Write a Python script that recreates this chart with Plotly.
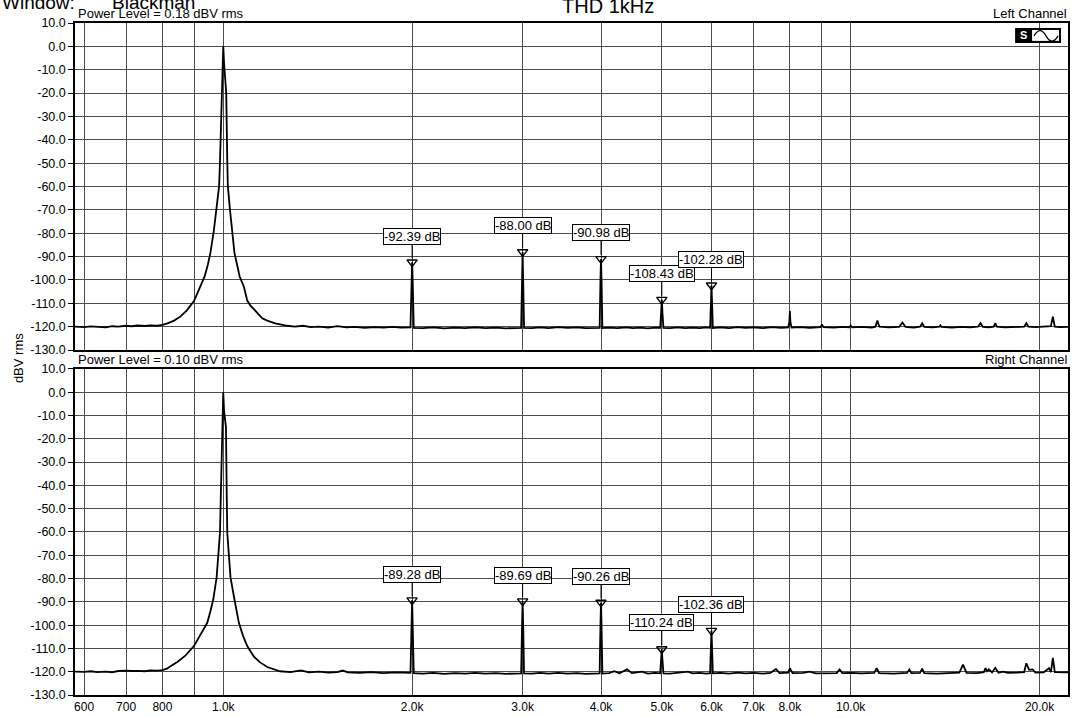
import math
import plotly.graph_objects as go

# ---------------- data ----------------
freq_left = (
    [580, 600, 615, 630, 650, 665, 680, 700, 715, 730, 750, 765, 785]
    + [800, 815, 835, 855, 875, 898, 910, 920, 934, 945, 954, 966, 976, 985, 988, 992, 995, 998, 1000]
    + [1003, 1007, 1011, 1015, 1017, 1025, 1033, 1042, 1062, 1079, 1092, 1105, 1119, 1135, 1154, 1175, 1210, 1265]
    + [1300, 1340, 1380, 1420, 1470, 1520, 1570, 1620, 1680, 1740, 1800, 1860, 1920, 1988, 1996, 2000, 2004, 2012]
    + [2080, 2160, 2250, 2340, 2430, 2520, 2620, 2720, 2820, 2920, 2984, 2994, 3000, 3006, 3016]
    + [3100, 3200, 3300, 3420, 3540, 3660, 3780, 3900, 3980, 3992, 4000, 4008, 4020]
    + [4120, 4250, 4380, 4500, 4620, 4750, 4880, 4970, 4988, 5000, 5012, 5030]
    + [5150, 5300, 5450, 5600, 5750, 5880, 5970, 5990, 6000, 6010, 6030]
    + [6200, 6400, 6600, 6800, 7000, 7250, 7500, 7750, 7950, 7985, 8000, 8015, 8050]
    + [8300, 8600, 8950, 9000, 9050, 9400, 9700, 9950, 10000, 10050,
       10400, 10800, 10950, 11030, 11110, 11500, 11950, 12090, 12230, 12600,
       12900, 13000, 13100, 13500, 13850, 13900, 13950, 14500, 15000, 15500,
       15950, 16100, 16250, 16600, 16900, 17000, 17100, 17600, 18200, 18900,
       19050, 19200, 19700, 20300, 20850, 21000, 21150, 21600, 22340]
)
level_left = (
    [-120.0, -120.2, -119.9, -120.1, -120.3, -119.8, -120.0, -119.6, -119.8, -119.5, -119.7, -119.4, -119.6]
    + [-119.2, -118.6, -117.4, -115.6, -113.0, -109.0, -105.5, -102.5, -98.5, -93.5, -88.4, -79.0, -70.0, -59.7, -49.7, -35.0, -20.0, -8.0, 0.0]
    + [-7.0, -12.0, -20.0, -49.7, -59.7, -70.0, -79.0, -88.4, -98.5, -103.0, -108.8, -111.0, -112.5, -114.5, -116.4, -117.4, -118.6, -119.6]
    + [-120.0, -119.6, -120.2, -120.0, -120.4, -119.8, -120.3, -120.1, -120.5, -120.2, -120.4, -120.1, -120.4, -120.3, -100.0, -92.39, -100.0, -120.5]
    + [-120.6, -120.3, -120.7, -120.4, -120.6, -120.3, -120.6, -120.4, -120.7, -120.4, -120.5, -100.0, -88.00, -100.0, -120.5]
    + [-120.6, -120.3, -120.6, -120.2, -120.5, -120.3, -120.6, -120.4, -120.5, -100.0, -90.98, -100.0, -120.6]
    + [-120.4, -120.6, -120.3, -120.6, -120.4, -120.7, -120.4, -120.5, -114.0, -108.43, -114.0, -120.5]
    + [-120.6, -120.3, -120.6, -120.4, -120.6, -120.3, -120.5, -108.0, -102.28, -108.0, -120.6]
    + [-120.3, -120.6, -120.2, -120.5, -120.3, -120.6, -120.2, -120.5, -120.3, -118.0, -113.3, -118.0, -120.4]
    + [-120.2, -120.5, -120.2, -119.0, -120.2, -120.4, -120.1, -120.3, -119.5, -120.3,
       -120.1, -120.4, -120.0, -117.4, -120.0, -120.3, -120.1, -118.2, -120.1, -120.4,
       -120.0, -118.5, -120.1, -120.3, -120.0, -119.4, -120.1, -120.4, -120.1, -120.3,
       -120.0, -118.5, -120.1, -120.3, -120.0, -118.5, -120.0, -120.3, -120.1, -120.0,
       -118.5, -120.0, -120.2, -120.0, -119.8, -115.7, -120.0, -120.2, -120.0]
)

freq_right = (
    [580, 600, 615, 630, 650, 665, 680, 700, 715, 730, 750, 765, 785]
    + [800, 815, 824, 845, 871, 898, 920, 943, 954, 964, 976, 983, 988, 992, 995, 998, 1000]
    + [1003, 1007, 1010, 1013, 1015, 1021, 1027, 1042, 1059, 1075, 1092, 1119, 1145, 1175, 1232, 1280]
    + [1330, 1370, 1420, 1470, 1520, 1550, 1580, 1650, 1720, 1800, 1880, 1988, 1996, 2000, 2004, 2012]
    + [2080, 2160, 2250, 2340, 2430, 2520, 2620, 2720, 2820, 2920, 2984, 2994, 3000, 3006, 3016]
    + [3100, 3200, 3300, 3420, 3540, 3660, 3780, 3900, 3980, 3992, 4000, 4008, 4020]
    + [4120, 4200, 4280, 4400, 4480, 4650, 4750, 4880, 4970, 4988, 5000, 5012, 5030]
    + [5150, 5300, 5500, 5600, 5750, 5880, 5970, 5990, 6000, 6010, 6030]
    + [6200, 6400, 6600, 6800, 7000, 7250, 7450, 7600, 7700, 7950,
       8000, 8080, 8400, 8600, 8800, 9200, 9500, 9600, 9700, 10000,
       10400, 10900, 11000, 11100, 11700, 12300, 12400, 12500, 12900, 13000,
       13100, 13700, 14300, 14900, 15100, 15300, 15900, 16300, 16400, 16500,
       16600, 16800, 17000, 17200, 17500, 17800, 18400, 18900, 19050, 19250,
       19500, 19700, 20300, 20700, 20850, 21000, 21150, 21700, 22340]
)
level_right = (
    [-120.0, -120.1, -119.8, -120.2, -120.0, -120.3, -119.7, -119.5, -119.7, -119.6, -119.8, -119.4, -119.5]
    + [-119.3, -118.6, -117.6, -115.8, -113.0, -109.0, -104.0, -99.0, -94.0, -89.0, -79.5, -70.0, -60.5, -40.0, -20.0, -9.0, 0.0]
    + [-8.0, -11.0, -15.0, -45.0, -60.5, -70.0, -79.5, -89.0, -99.0, -104.5, -109.0, -113.5, -116.0, -118.0, -119.8, -120.2]
    + [-119.4, -120.3, -120.0, -120.4, -120.2, -119.5, -120.3, -120.5, -120.2, -120.6, -120.3, -120.5, -100.0, -89.28, -100.0, -120.6]
    + [-120.8, -120.5, -120.9, -120.6, -120.8, -120.5, -120.8, -120.6, -120.9, -120.6, -120.7, -100.0, -89.69, -100.0, -120.7]
    + [-120.8, -120.5, -120.8, -120.5, -120.8, -120.6, -120.9, -120.6, -120.7, -100.0, -90.26, -100.0, -120.8]
    + [-120.6, -119.8, -120.7, -119.0, -120.6, -120.0, -120.8, -120.5, -120.7, -115.0, -110.24, -115.0, -120.7]
    + [-120.8, -120.5, -120.0, -120.7, -120.5, -120.8, -120.6, -108.0, -102.36, -108.0, -120.7]
    + [-120.5, -120.8, -120.4, -120.7, -120.5, -120.8, -120.5, -118.8, -120.6, -120.4,
       -118.5, -120.6, -120.5, -120.0, -120.7, -120.5, -120.6, -119.0, -120.6, -120.5,
       -120.7, -120.5, -118.5, -120.6, -120.8, -120.5, -119.0, -120.6, -120.5, -118.7,
       -120.6, -120.8, -120.6, -120.4, -117.0, -120.5, -120.6, -120.2, -118.5, -119.8,
       -119.0, -120.3, -118.3, -120.4, -120.0, -120.5, -120.4, -120.2, -116.4, -119.2,
       -119.0, -120.4, -120.3, -118.5, -120.2, -114.1, -120.2, -120.4, -120.3]
)

harmonic_freq = [2000, 3000, 4000, 5000, 6000]
harmonic_left = [-92.39, -88.00, -90.98, -108.43, -102.28]
harmonic_right = [-89.28, -89.69, -90.26, -110.24, -102.36]

x_tick_vals = [600, 700, 800, 900, 1000, 2000, 3000, 4000, 5000, 6000, 7000, 8000, 9000, 10000, 20000]
x_tick_text = ["600", "700", "800", "", "1.0k", "2.0k", "3.0k", "4.0k", "5.0k", "6.0k", "7.0k", "8.0k", "", "10.0k", "20.0k"]
y_tick_vals = [10, 0, -10, -20, -30, -40, -50, -60, -70, -80, -90, -100, -110, -120, -130]
y_tick_text = ["10.0", "0.0", "-10.0", "-20.0", "-30.0", "-40.0", "-50.0", "-60.0", "-70.0",
               "-80.0", "-90.0", "-100.0", "-110.0", "-120.0", "-130.0"]

power_left = "Power Level = 0.18 dBV rms"
power_right = "Power Level = 0.10 dBV rms"

assert len(freq_left) == len(level_left)
assert len(freq_right) == len(level_right)

# ---------------- layout geometry ----------------
W, H = 1074, 718
ML, MR, MT, MB = 75, 4, 23, 19
PW = W - ML - MR
PH = H - MT - MB
FONT = "Liberation Sans, Arial, sans-serif"


def px_x(px):
    return (px - ML) / PW


def px_y(py):
    return (H - MB - py) / PH


top_dom = [px_y(352), 1.0]
bot_dom = [0.0, px_y(371)]
x_range = [math.log10(580.4), math.log10(22200)]
GRID = "#4d4d4d"

fig = go.Figure()

fig.add_trace(go.Scatter(x=freq_left, y=level_left, mode="lines",
                         line=dict(color="black", width=1.8), xaxis="x", yaxis="y",
                         showlegend=False, hoverinfo="skip"))
fig.add_trace(go.Scatter(x=freq_right, y=level_right, mode="lines",
                         line=dict(color="black", width=1.8), xaxis="x2", yaxis="y2",
                         showlegend=False, hoverinfo="skip"))

# harmonic markers
marker_style = dict(symbol="triangle-down-open", size=9, color="black",
                    line=dict(width=1.4, color="black"))
fig.add_trace(go.Scatter(x=harmonic_freq, y=harmonic_left, mode="markers", marker=marker_style,
                         xaxis="x", yaxis="y", showlegend=False, hoverinfo="skip"))
fig.add_trace(go.Scatter(x=harmonic_freq, y=harmonic_right, mode="markers", marker=marker_style,
                         xaxis="x2", yaxis="y2", showlegend=False, hoverinfo="skip"))

annotations = []
for axes, vals in (("", harmonic_left), ("2", harmonic_right)):
    for fx, lv in zip(harmonic_freq, vals):
        annotations.append(dict(x=math.log10(fx), y=lv, xref="x" + axes, yref="y" + axes,
                                text=f"{lv:.2f} dB", showarrow=True, arrowhead=0,
                                arrowwidth=1, arrowcolor="black", ax=0, ay=-26, standoff=4,
                                bgcolor="white", bordercolor="black", borderwidth=1, borderpad=0,
                                font=dict(family=FONT, size=13, color="black")))

# header texts
annotations += [
    dict(text="THD 1kHz", x=px_x(609), y=1, xref="paper", yref="paper", xanchor="center",
         yanchor="bottom", yshift=4, showarrow=False, font=dict(family=FONT, size=20, color="black")),
    dict(text="Window:", x=px_x(0), y=1, xref="paper", yref="paper", xanchor="left",
         yanchor="bottom", yshift=8, showarrow=False, font=dict(family=FONT, size=19, color="black")),
    dict(text="Blackman", x=px_x(110), y=1, xref="paper", yref="paper", xanchor="left",
         yanchor="bottom", yshift=8, showarrow=False, font=dict(family=FONT, size=19, color="black")),
    dict(text=power_left, x=0, y=1, xref="paper", yref="paper", xanchor="left", xshift=1,
         yanchor="bottom", yshift=0, showarrow=False, font=dict(family=FONT, size=13, color="black")),
    dict(text="Left Channel", x=1, y=1, xref="paper", yref="paper", xanchor="right", xshift=1,
         yanchor="bottom", yshift=0, showarrow=False, font=dict(family=FONT, size=13, color="black")),
    dict(text=power_right, x=0, y=bot_dom[1], xref="paper", yref="paper", xanchor="left", xshift=1,
         yanchor="bottom", yshift=0, showarrow=False, font=dict(family=FONT, size=13, color="black")),
    dict(text="Right Channel", x=1, y=bot_dom[1], xref="paper", yref="paper", xanchor="right", xshift=1,
         yanchor="bottom", yshift=0, showarrow=False, font=dict(family=FONT, size=13, color="black")),
    dict(text="dBV rms", x=px_x(18), y=px_y(360), xref="paper", yref="paper", xanchor="center",
         yanchor="middle", textangle=-90, showarrow=False, font=dict(family=FONT, size=13, color="black")),
    dict(text="<b>S</b>", x=px_x(1025), y=px_y(35.5), xref="paper", yref="paper", xanchor="center",
         yanchor="middle", showarrow=False, font=dict(family=FONT, size=11, color="white")),
]

# icon (top right) shapes
shapes = [
    dict(type="rect", xref="paper", yref="paper", x0=px_x(1017), x1=px_x(1063),
         y0=px_y(43), y1=px_y(28), fillcolor="black", line=dict(width=0)),
    dict(type="rect", xref="paper", yref="paper", x0=px_x(1034), x1=px_x(1061),
         y0=px_y(41), y1=px_y(30), fillcolor="white", line=dict(width=0)),
    dict(type="path", xref="paper", yref="paper",
         path=(f"M {px_x(1036)},{px_y(36)} C {px_x(1040)},{px_y(29)} {px_x(1044)},{px_y(29)} {px_x(1048)},{px_y(36)} "
               f"C {px_x(1052)},{px_y(43)} {px_x(1056)},{px_y(43)} {px_x(1060)},{px_y(36)}"),
         line=dict(color="black", width=1.2)),
]

xaxis_common = dict(type="log", range=x_range, tickmode="array", tickvals=x_tick_vals,
                    showgrid=True, gridcolor=GRID, gridwidth=1, zeroline=False,
                    showline=True, mirror=True, linecolor="black", linewidth=1.5,
                    ticks="", tickfont=dict(family=FONT, size=12, color="black"))
yaxis_common = dict(range=[-130, 10], tickmode="array", tickvals=y_tick_vals, ticktext=y_tick_text,
                    showgrid=True, gridcolor=GRID, gridwidth=1, zeroline=False,
                    showline=True, mirror=True, linecolor="black", linewidth=1.5,
                    ticks="outside", ticklen=5, tickcolor="black", tickwidth=1,
                    tickfont=dict(family=FONT, size=12.5, color="black"))

fig.update_layout(
    width=W, height=H,
    margin=dict(l=ML, r=MR, t=MT, b=MB, pad=0),
    paper_bgcolor="white", plot_bgcolor="white",
    showlegend=False,
    xaxis=dict(**xaxis_common, domain=[0, 1], anchor="y", ticktext=[""] * len(x_tick_vals),
               showticklabels=False),
    yaxis=dict(**yaxis_common, domain=top_dom, anchor="x"),
    xaxis2=dict(**xaxis_common, domain=[0, 1], anchor="y2", ticktext=x_tick_text),
    yaxis2=dict(**yaxis_common, domain=bot_dom, anchor="x2"),
    annotations=annotations,
    shapes=shapes,
    font=dict(family=FONT, color="black"),
)

fig.write_html("out.html", config={"displayModeBar": False},
               post_script="document.body.style.margin='0';")
